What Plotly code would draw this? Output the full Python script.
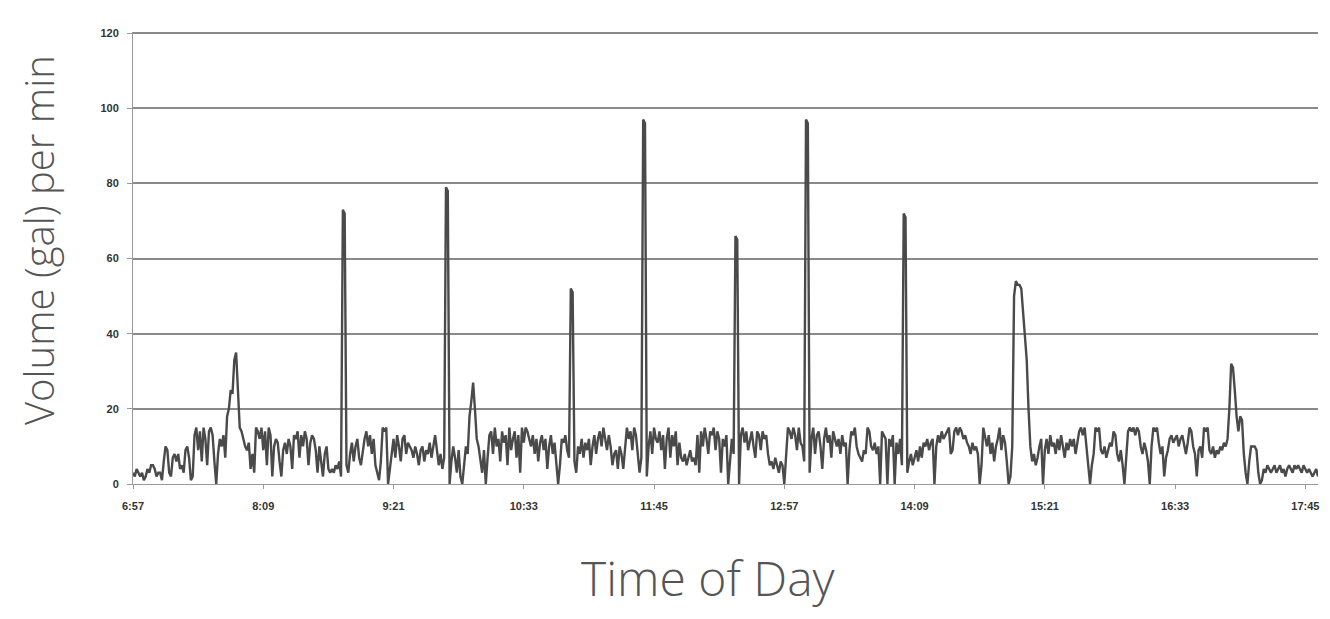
import plotly.graph_objects as go

# Flow volume (gal/min), one reading per minute starting at 6:57
flow_gpm = [
    3, 2, 4, 3, 2, 3, 1, 2, 4, 3,
    5, 5, 4, 2, 3, 3, 1, 6, 10, 9,
    3, 2, 7, 8, 6, 8, 4, 5, 3, 9,
    10, 7, 1, 2, 13, 15, 9, 14, 6, 15,
    12, 5, 14, 15, 13, 6, 0, 8, 12, 10,
    13, 7, 18, 20, 25, 24, 33, 35, 26, 15,
    14, 12, 10, 9, 11, 4, 8, 3, 15, 14,
    12, 15, 9, 14, 5, 15, 13, 2, 10, 12,
    11, 6, 2, 9, 11, 8, 12, 10, 4, 13,
    12, 14, 7, 13, 10, 14, 12, 5, 11, 13,
    12, 9, 3, 10, 6, 2, 8, 10, 4, 3,
    4, 3, 5, 4, 6, 2, 73, 72, 5, 3,
    8, 11, 6, 10, 12, 7, 5, 9, 12, 14,
    10, 13, 8, 12, 5, 3, 1, 6, 15, 14,
    15, 0, 4, 9, 12, 7, 13, 10, 6, 12,
    13, 8, 11, 10, 9, 7, 10, 8, 5, 9,
    10, 6, 9, 8, 11, 7, 10, 13, 9, 5,
    8, 4, 7, 79, 78, 0, 6, 10, 7, 3,
    9, 2, 0, 5, 10, 8, 18, 22, 27, 20,
    12, 10, 6, 3, 9, 0, 7, 13, 14, 8,
    15, 10, 12, 6, 14, 11, 13, 5, 15, 9,
    12, 14, 7, 13, 3, 15, 11, 15, 14, 12,
    10, 13, 8, 12, 6, 11, 13, 9, 12, 4,
    10, 13, 8, 11, 6, 0, 5, 12, 11, 13,
    9, 7, 52, 51, 6, 3, 10, 8, 12, 7,
    11, 9, 12, 5, 10, 13, 8, 12, 14, 10,
    15, 12, 9, 13, 10, 5, 8, 9, 4, 10,
    8, 4, 10, 15, 12, 14, 9, 15, 13, 8,
    3, 7, 97, 96, 2, 10, 14, 8, 15, 12,
    11, 14, 9, 13, 4, 12, 15, 7, 13, 10,
    14, 5, 11, 7, 6, 8, 5, 7, 9, 6,
    7, 5, 13, 3, 14, 10, 15, 12, 8, 14,
    13, 15, 9, 14, 12, 3, 12, 10, 13, 0,
    5, 12, 8, 66, 65, 0, 13, 15, 11, 14,
    9, 12, 14, 10, 7, 14, 13, 9, 14, 12,
    13, 8, 5, 6, 4, 7, 5, 3, 6, 5,
    0, 8, 15, 14, 12, 15, 13, 9, 15, 11,
    10, 6, 97, 96, 3, 12, 15, 8, 13, 14,
    10, 4, 12, 15, 11, 13, 7, 14, 12, 10,
    12, 8, 13, 10, 11, 0, 9, 14, 13, 15,
    10, 8, 7, 6, 9, 8, 15, 14, 10, 9,
    11, 8, 10, 0, 14, 13, 12, 0, 12, 10,
    13, 0, 11, 8, 12, 5, 72, 71, 3, 6,
    8, 5, 7, 9, 6, 10, 7, 11, 10, 12,
    9, 11, 12, 0, 10, 13, 11, 14, 12, 13,
    14, 15, 8, 9, 14, 15, 13, 15, 14, 12,
    13, 11, 10, 8, 11, 9, 10, 8, 0, 5,
    15, 12, 10, 13, 8, 11, 6, 10, 12, 15,
    9, 13, 11, 6, 0, 2, 10, 50, 54, 53,
    53, 52, 45, 38, 33, 20, 10, 6, 8, 5,
    7, 10, 12, 0, 9, 12, 8, 13, 10, 11,
    8, 12, 9, 13, 10, 7, 11, 9, 12, 10,
    12, 8, 11, 14, 15, 13, 15, 10, 4, 0,
    5, 8, 15, 14, 15, 9, 8, 10, 7, 9,
    11, 10, 14, 13, 8, 6, 9, 5, 0, 7,
    14, 15, 14, 15, 13, 15, 14, 10, 8, 11,
    9, 6, 0, 10, 15, 14, 15, 11, 8, 10,
    2, 7, 9, 12, 13, 11, 12, 13, 10, 12,
    13, 10, 8, 11, 15, 14, 10, 8, 2, 9,
    10, 7, 15, 14, 15, 9, 8, 10, 7, 9,
    8, 10, 9, 11, 10, 12, 20, 32, 31, 25,
    18, 14, 18, 17, 8, 3, 0, 6, 10, 10,
    10, 9, 3, 0, 1, 4, 3, 5, 4, 3,
    4, 5, 3, 4, 5, 3, 4, 2, 4, 5,
    4, 3, 5, 4, 5, 4, 3, 5, 4, 3,
    4, 3, 2, 3, 4, 2,
]

tick_labels = ["6:57", "8:09", "9:21", "10:33", "11:45", "12:57",
               "14:09", "15:21", "16:33", "17:45"]
tick_step = 72
y_ticks = [0, 20, 40, 60, 80, 100, 120]

minutes = list(range(len(flow_gpm)))
tick_positions = [i * tick_step for i in range(len(tick_labels))]

# page body has an 8px margin, so the figure starts at (8, 8)
W, H = 1322, 611
ML, MR, MT, MB = 125, 12, 24, 135
plot_w = W - ML - MR
plot_h = H - MT - MB

fig = go.Figure()
fig.add_trace(go.Scatter(
    x=minutes, y=flow_gpm, mode="lines",
    line=dict(color="#4a4a4a", width=2.4),
    hoverinfo="x+y", showlegend=False,
))

fig.update_layout(
    width=W, height=H,
    margin=dict(l=ML, r=MR, t=MT, b=MB),
    paper_bgcolor="white", plot_bgcolor="white",
    font=dict(family="Liberation Sans", color="#333"),
    xaxis=dict(
        range=[0, len(flow_gpm) - 1],
        tickmode="array", tickvals=tick_positions, ticktext=tick_labels,
        ticks="outside", ticklen=4, tickcolor="#999",
        ticklabelstandoff=8,
        tickfont=dict(size=11, color="#333", weight="bold"),
        showgrid=False, zeroline=False,
        showline=True, linecolor="#999", linewidth=1,
    ),
    yaxis=dict(
        range=[0, 120.3], tickvals=y_ticks,
        ticks="outside", ticklen=5, tickcolor="#999",
        ticklabelstandoff=6,
        tickfont=dict(size=11, color="#333", weight="bold"),
        showgrid=True, gridcolor="#8a8a8a", gridwidth=1.5,
        zeroline=False, showline=True, linecolor="#999", linewidth=1,
    ),
    annotations=[
        dict(text="Time of Day", xref="paper", yref="paper",
             x=(708 - 8 - ML) / plot_w, y=-(577 - 484) / plot_h,
             xanchor="center", yanchor="middle", showarrow=False,
             font=dict(family="Open Sans", size=48, color="#555", weight=300)),
        dict(text="Volume (gal) per min", xref="paper", yref="paper",
             x=-(133 - 38) / plot_w, y=(484 - 240) / plot_h,
             xanchor="center", yanchor="middle", showarrow=False,
             textangle=-90,
             font=dict(family="Open Sans", size=40, color="#555", weight=300)),
    ],
)

fig.write_html("out.html")
